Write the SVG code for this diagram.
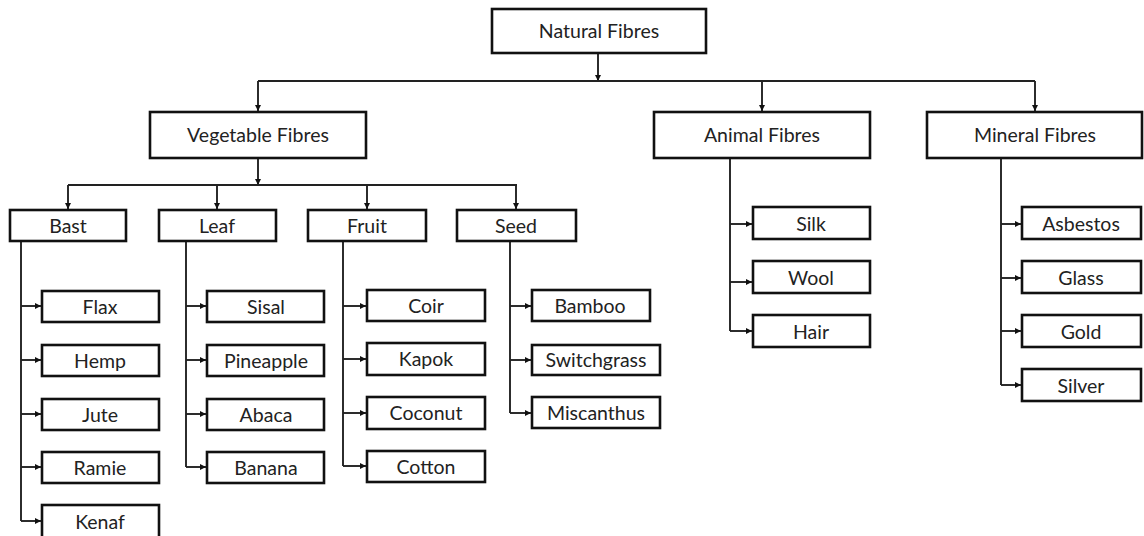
<svg xmlns="http://www.w3.org/2000/svg" width="1144" height="536" viewBox="0 0 1144 536">
<style>
.box{fill:#fff;stroke:#111;stroke-width:2.6}
.lbl{font-family:Lato,"Open Sans","Liberation Sans",sans-serif;font-size:19.5px;fill:#222;text-anchor:middle}
.big{font-size:19.5px}
.ln{fill:none;stroke:#222;stroke-width:1.9}
</style>
<defs>
<marker id="ah" viewBox="0 0 10 10" refX="10" refY="5" markerWidth="6.5" markerHeight="6.5" markerUnits="userSpaceOnUse" orient="auto">
<path d="M0,0 L10,5 L0,10 Z" fill="#111"/>
</marker>
</defs>
<rect width="1144" height="536" fill="#fff"/>
<g id="connectors">
<path class="ln" d="M598,53 V81" marker-end="url(#ah)"/>
<path class="ln" d="M258,81 H1035"/>
<path class="ln" d="M258,81 V111" marker-end="url(#ah)"/>
<path class="ln" d="M762,81 V111" marker-end="url(#ah)"/>
<path class="ln" d="M1035,81 V111" marker-end="url(#ah)"/>
<path class="ln" d="M258,158 V185" marker-end="url(#ah)"/>
<path class="ln" d="M68,185 H517"/>
<path class="ln" d="M68,185 V209" marker-end="url(#ah)"/>
<path class="ln" d="M217,185 V209" marker-end="url(#ah)"/>
<path class="ln" d="M367,185 V209" marker-end="url(#ah)"/>
<path class="ln" d="M516,185 V209" marker-end="url(#ah)"/>
<path class="ln" d="M21,241 V521"/>
<path class="ln" d="M21,306 H41" marker-end="url(#ah)"/>
<path class="ln" d="M21,360 H41" marker-end="url(#ah)"/>
<path class="ln" d="M21,414 H41" marker-end="url(#ah)"/>
<path class="ln" d="M21,467 H41" marker-end="url(#ah)"/>
<path class="ln" d="M21,521 H41" marker-end="url(#ah)"/>
<path class="ln" d="M186,241 V467"/>
<path class="ln" d="M186,306 H206" marker-end="url(#ah)"/>
<path class="ln" d="M186,360 H206" marker-end="url(#ah)"/>
<path class="ln" d="M186,414 H206" marker-end="url(#ah)"/>
<path class="ln" d="M186,467 H206" marker-end="url(#ah)"/>
<path class="ln" d="M343,241 V466"/>
<path class="ln" d="M343,306 H366" marker-end="url(#ah)"/>
<path class="ln" d="M343,359 H366" marker-end="url(#ah)"/>
<path class="ln" d="M343,413 H366" marker-end="url(#ah)"/>
<path class="ln" d="M343,466 H366" marker-end="url(#ah)"/>
<path class="ln" d="M510,241 V413"/>
<path class="ln" d="M510,306 H531" marker-end="url(#ah)"/>
<path class="ln" d="M510,360 H531" marker-end="url(#ah)"/>
<path class="ln" d="M510,413 H531" marker-end="url(#ah)"/>
<path class="ln" d="M730,158 V331"/>
<path class="ln" d="M730,224 H752" marker-end="url(#ah)"/>
<path class="ln" d="M730,282 H752" marker-end="url(#ah)"/>
<path class="ln" d="M730,331 H752" marker-end="url(#ah)"/>
<path class="ln" d="M1001,158 V385"/>
<path class="ln" d="M1001,224 H1021" marker-end="url(#ah)"/>
<path class="ln" d="M1001,278 H1021" marker-end="url(#ah)"/>
<path class="ln" d="M1001,331 H1021" marker-end="url(#ah)"/>
<path class="ln" d="M1001,385 H1021" marker-end="url(#ah)"/>
</g>
<g id="natural"><rect class="box" x="492" y="9" width="214" height="44"/><text class="lbl big" x="599" y="38">Natural Fibres</text></g>
<g id="vegetable"><rect class="box" x="150" y="112" width="216" height="46"/><text class="lbl big" x="258" y="142">Vegetable Fibres</text></g>
<g id="animal"><rect class="box" x="654" y="112" width="216" height="46"/><text class="lbl big" x="762" y="142">Animal Fibres</text></g>
<g id="mineral"><rect class="box" x="927" y="112" width="215" height="46"/><text class="lbl big" x="1035" y="142">Mineral Fibres</text></g>
<g id="bast"><rect class="box" x="10" y="210" width="116" height="31"/><text class="lbl" x="68" y="232.5">Bast</text></g>
<g id="leaf"><rect class="box" x="159" y="210" width="117" height="31"/><text class="lbl" x="217" y="232.5">Leaf</text></g>
<g id="fruit"><rect class="box" x="308" y="210" width="118" height="31"/><text class="lbl" x="367" y="232.5">Fruit</text></g>
<g id="seed"><rect class="box" x="457" y="210" width="119" height="31"/><text class="lbl" x="516" y="232.5">Seed</text></g>
<g id="flax"><rect class="box" x="42" y="291" width="117" height="31"/><text class="lbl" x="100" y="313.5">Flax</text></g>
<g id="hemp"><rect class="box" x="42" y="345" width="117" height="31"/><text class="lbl" x="100" y="367.5">Hemp</text></g>
<g id="jute"><rect class="box" x="42" y="399" width="117" height="31"/><text class="lbl" x="100" y="421.5">Jute</text></g>
<g id="ramie"><rect class="box" x="42" y="452" width="117" height="31"/><text class="lbl" x="100" y="474.5">Ramie</text></g>
<g id="kenaf"><rect class="box" x="42" y="505" width="117" height="33"/><text class="lbl" x="100" y="528.5">Kenaf</text></g>
<g id="sisal"><rect class="box" x="207" y="291" width="117" height="31"/><text class="lbl" x="266" y="313.5">Sisal</text></g>
<g id="pineapple"><rect class="box" x="207" y="345" width="117" height="31"/><text class="lbl" x="266" y="367.5">Pineapple</text></g>
<g id="abaca"><rect class="box" x="207" y="399" width="117" height="31"/><text class="lbl" x="266" y="421.5">Abaca</text></g>
<g id="banana"><rect class="box" x="207" y="452" width="117" height="31"/><text class="lbl" x="266" y="474.5">Banana</text></g>
<g id="coir"><rect class="box" x="367" y="290" width="118" height="31"/><text class="lbl" x="426" y="312.5">Coir</text></g>
<g id="kapok"><rect class="box" x="367" y="343" width="118" height="32"/><text class="lbl" x="426" y="365.5">Kapok</text></g>
<g id="coconut"><rect class="box" x="367" y="397" width="118" height="32"/><text class="lbl" x="426" y="419.5">Coconut</text></g>
<g id="cotton"><rect class="box" x="367" y="451" width="118" height="31"/><text class="lbl" x="426" y="473.5">Cotton</text></g>
<g id="bamboo"><rect class="box" x="532" y="290" width="118" height="31"/><text class="lbl" x="590" y="312.5">Bamboo</text></g>
<g id="switchgrass"><rect class="box" x="532" y="345" width="128" height="30"/><text class="lbl" x="596" y="366.5">Switchgrass</text></g>
<g id="miscanthus"><rect class="box" x="532" y="397" width="128" height="31"/><text class="lbl" x="596" y="419.5">Miscanthus</text></g>
<g id="silk"><rect class="box" x="753" y="207" width="117" height="32"/><text class="lbl" x="811" y="230.5">Silk</text></g>
<g id="wool"><rect class="box" x="753" y="261" width="117" height="32"/><text class="lbl" x="811" y="284.5">Wool</text></g>
<g id="hair"><rect class="box" x="753" y="315" width="117" height="32"/><text class="lbl" x="811" y="338.5">Hair</text></g>
<g id="asbestos"><rect class="box" x="1022" y="207" width="119" height="32"/><text class="lbl" x="1081" y="230.5">Asbestos</text></g>
<g id="glass"><rect class="box" x="1022" y="261" width="119" height="32"/><text class="lbl" x="1081" y="284.5">Glass</text></g>
<g id="gold"><rect class="box" x="1022" y="315" width="119" height="32"/><text class="lbl" x="1081" y="338.5">Gold</text></g>
<g id="silver"><rect class="box" x="1022" y="369" width="119" height="32"/><text class="lbl" x="1081" y="392.5">Silver</text></g>
</svg>
